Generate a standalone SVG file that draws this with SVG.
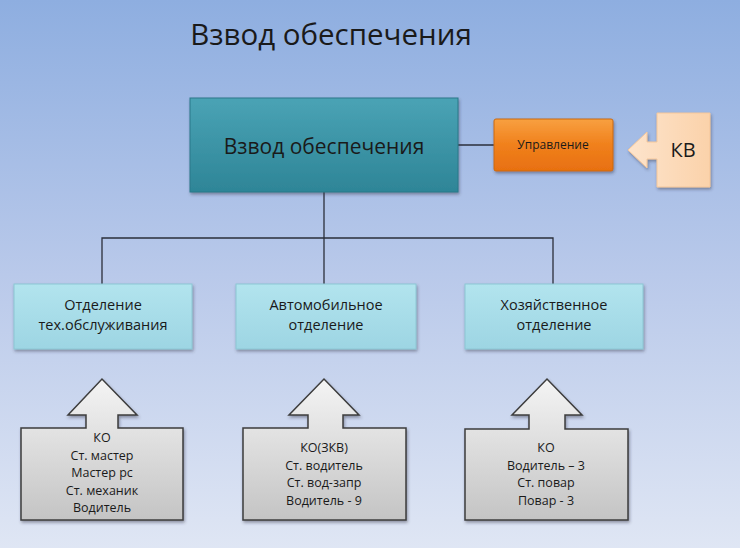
<svg xmlns="http://www.w3.org/2000/svg" width="740" height="548" viewBox="0 0 740 548">
<defs>
<linearGradient id="bg" x1="0" y1="0" x2="0" y2="1">
<stop offset="0" stop-color="#8eaee0"/><stop offset="0.5" stop-color="#b9c9ea"/><stop offset="1" stop-color="#dfe6f4"/>
</linearGradient>
<linearGradient id="teal" x1="0" y1="0" x2="0" y2="1">
<stop offset="0" stop-color="#4aa3b5"/><stop offset="1" stop-color="#2e8597"/>
</linearGradient>
<linearGradient id="orange" x1="0" y1="0" x2="0" y2="1">
<stop offset="0" stop-color="#f8a040"/><stop offset="0.5" stop-color="#f0801c"/><stop offset="1" stop-color="#e87010"/>
</linearGradient>
<linearGradient id="peach" x1="0" y1="0" x2="1" y2="0">
<stop offset="0" stop-color="#fde4cc"/><stop offset="1" stop-color="#fbd2aa"/>
</linearGradient>
<linearGradient id="cyan" x1="0" y1="0" x2="0" y2="1">
<stop offset="0" stop-color="#b2e4ee"/><stop offset="1" stop-color="#9dd5e3"/>
</linearGradient>
<linearGradient id="grey" x1="0" y1="0" x2="0" y2="1">
<stop offset="0" stop-color="#f4f4f4"/><stop offset="1" stop-color="#c4c4c4"/>
</linearGradient>
<filter id="sh" x="-10%" y="-10%" width="120%" height="130%">
<feDropShadow dx="1" dy="2" stdDeviation="1.5" flood-color="#334" flood-opacity="0.45"/>
</filter>
</defs>
<style>
text{font-family:"Open Sans","Liberation Sans",sans-serif;text-anchor:middle;fill:#1a1a1a}
.conn{stroke:#2b2f3a;stroke-width:1.3;fill:none}
.cbox{fill:url(#cyan);stroke:#8cc6d4;stroke-width:1;filter:url(#sh)}
.callout{fill:url(#grey);stroke:#3c3c3c;stroke-width:1.5;filter:url(#sh)}
.sub{font-size:14.5px}
.lst{font-size:12.5px}
</style>
<rect width="740" height="548" fill="url(#bg)"/>
<text x="331" y="45" font-size="29.5" fill="#111">Взвод обеспечения</text>

<g id="connectors">
<line class="conn" x1="458" y1="145" x2="494" y2="145"/>
<line class="conn" x1="324" y1="192" x2="324" y2="284"/>
<polyline class="conn" points="102,284 102,238 553,238 553,284"/>
</g>

<g id="main">
<rect x="190" y="98" width="268" height="94" fill="url(#teal)" stroke="#2a7889" stroke-width="1" filter="url(#sh)"/>
<text x="324" y="154" font-size="21">Взвод обеспечения</text>
</g>

<g id="upravlenie">
<rect x="494" y="119" width="119" height="52" rx="2" fill="url(#orange)" stroke="#c96a10" stroke-width="1" filter="url(#sh)"/>
<text x="553" y="149" font-size="12">Управление</text>
</g>

<g id="kv">
<path d="M657,113 H710 V187 H657 V159 H647 V168 L628,150 L647,132 V142 H657 Z" fill="url(#peach)" stroke="#f5c79a" stroke-width="1" filter="url(#sh)"/>
<text x="683" y="157" font-size="20">КВ</text>
</g>

<g id="otd1">
<rect class="cbox" x="14" y="284" width="178" height="65"/>
<text class="sub" x="103" y="310">Отделение</text>
<text class="sub" x="103" y="330">тех.обслуживания</text>
</g>
<g id="otd2">
<rect class="cbox" x="236" y="284" width="180" height="65"/>
<text class="sub" x="326" y="310">Автомобильное</text>
<text class="sub" x="326" y="330">отделение</text>
</g>
<g id="otd3">
<rect class="cbox" x="465" y="284" width="178" height="65"/>
<text class="sub" x="554" y="310">Хозяйственное</text>
<text class="sub" x="554" y="330">отделение</text>
</g>

<g id="sostav1">
<path class="callout" d="M21,428 H86 V415 H68 L102,379 L137,415 H118 V428 H183 V520 H21 Z"/>
<text class="lst" x="102" y="442">КО</text>
<text class="lst" x="102" y="460">Ст. мастер</text>
<text class="lst" x="102" y="477">Мастер рс</text>
<text class="lst" x="102" y="495">Ст. механик</text>
<text class="lst" x="102" y="512">Водитель</text>
</g>
<g id="sostav2">
<path class="callout" d="M243,428 H308 V415 H289 L324,379 L359,415 H343 V428 H406 V520 H243 Z"/>
<text class="lst" x="324" y="452">КО(ЗКВ)</text>
<text class="lst" x="324" y="470">Ст. водитель</text>
<text class="lst" x="324" y="487">Ст. вод-запр</text>
<text class="lst" x="324" y="505">Водитель - 9</text>
</g>
<g id="sostav3">
<path class="callout" d="M465,429 H529 V415 H512 L547,379 L582,415 H565 V429 H628 V520 H465 Z"/>
<text class="lst" x="546" y="452">КО</text>
<text class="lst" x="546" y="470">Водитель – 3</text>
<text class="lst" x="546" y="487">Ст. повар</text>
<text class="lst" x="546" y="505">Повар - 3</text>
</g>
</svg>
